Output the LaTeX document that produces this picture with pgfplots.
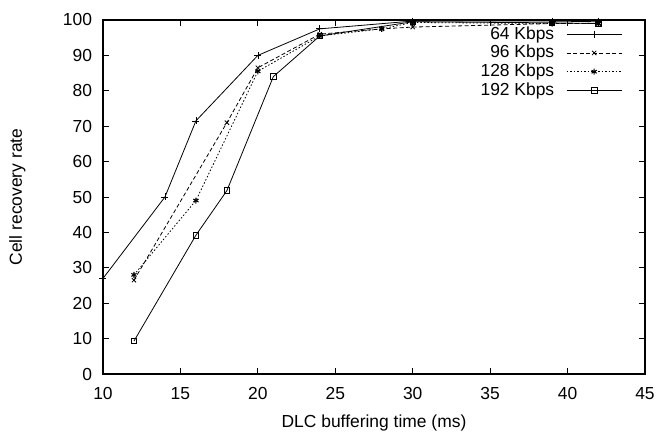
\documentclass[border=0pt]{standalone}
\usepackage{pgfplots}
\pgfplotsset{compat=1.18}
\usepackage{fontspec}
\setmainfont{Liberation Sans}
\begin{document}
\fontsize{17.5}{21}\selectfont
\begin{tikzpicture}
\useasboundingbox (-103bp,-63bp) rectangle (556bp,374bp);
\begin{axis}[
  at={(0,0)}, anchor=south west,
  scale only axis,
  width=542bp, height=354bp,
  xmin=10, xmax=45, ymin=0, ymax=100,
  xtick={10,15,...,45}, ytick={0,10,...,100},
  tick align=inside,
  major tick length=6bp,
  /pgf/number format/assume math mode=true,
  tick label style={font=\fontsize{17.5}{21}\selectfont},
  xticklabel style={yshift=-7bp},
  yticklabel style={xshift=-5bp},
  label style={font=\fontsize{17.5}{21}\selectfont},
  xlabel={DLC buffering time (ms)},
  ylabel={Cell recovery rate},
  xlabel style={at={(axis description cs:0.5,-0.139)}, anchor=center},
  ylabel style={at={(axis description cs:-0.158,0.5)}, anchor=center},
  axis line style={line width=1.2bp},
  every tick/.style={black, line width=0.8bp},
  legend style={draw=none, fill=none, at={(0.958,0.982)}, anchor=north east,
    font=\fontsize{17.5}{21}\selectfont, row sep=3.5bp, inner sep=0pt,
    nodes={inner sep=0pt}},
  legend cell align=right,
  legend plot pos=right,
  legend image code/.code={\path (0bp,0bp);
     \draw[#1, mark=none] (12bp,0bp) -- (67bp,0bp);
     \draw[#1, draw=none] plot coordinates {(39.5bp,0bp)};},
  every axis plot/.append style={black, line width=0.8bp},
]
\addplot[mark=+, mark size=3.5bp, mark options={solid, line width=0.7bp}] coordinates {
 (10,27) (14,50) (16,71.5) (20,90) (24,97.5) (30,99.7) (39,99.7) (42,99.5)};
\addlegendentry{64 Kbps}
\addplot[dash pattern=on 4bp off 2.5bp, mark=x, mark size=3bp, mark options={solid, line width=0.8bp}] coordinates {
 (12,26.5) (18,71) (20,86.5) (24,96) (28,97.5) (30,98) (39,99) (42,99)};
\addlegendentry{96 Kbps}
\addplot[dash pattern=on 1.5bp off 2bp, mark=asterisk, mark size=3bp, mark options={solid, line width=1.1bp}] coordinates {
 (12,28) (16,49) (20,85.5) (24,95.5) (28,97.5) (30,99.3) (39,99) (42,99)};
\addlegendentry{128 Kbps}
\addplot[mark=square, mark size=2.8bp, mark options={solid, line width=0.8bp}] coordinates {
 (12,9.3) (16,39.2) (18,51.8) (21,84) (24,95.5) (30,99.5) (39,99.2) (42,99)};
\addlegendentry{192 Kbps}
\end{axis}
\end{tikzpicture}
\end{document}
